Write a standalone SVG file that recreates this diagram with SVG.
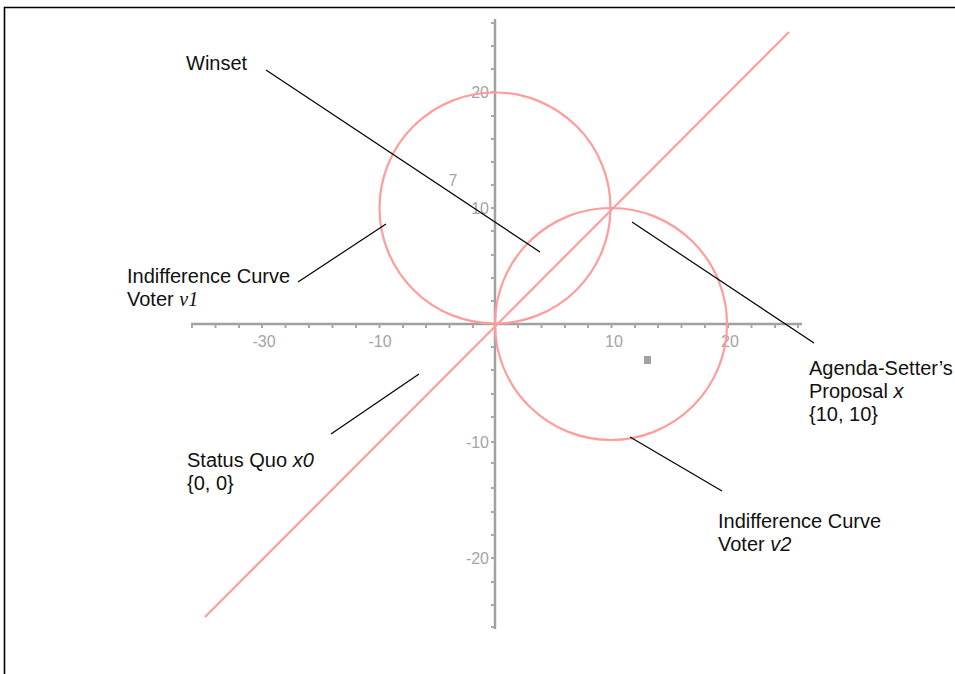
<svg xmlns="http://www.w3.org/2000/svg" width="955" height="674" viewBox="0 0 955 674">
<style>
.lbl{font-family:"Liberation Sans",Arial,sans-serif;font-size:20px;fill:#111}
.tick{font-family:"Liberation Sans",Arial,sans-serif;font-size:16px;fill:#a4a4a4}
.axis{stroke:#a0a0a0;stroke-width:2.5;fill:none}
.tk{stroke:#a8a8a8;stroke-width:2;fill:none}
.curve{stroke:#ff9c9c;stroke-width:2.2;fill:none}
.lead{stroke:#000;stroke-width:1.2;fill:none}
</style>
<rect width="955" height="674" fill="#fff"/>
<path d="M4.5,674 V7.5 H955" fill="none" stroke="#000" stroke-width="1.6"/>

<g id="axes">
<line class="axis" x1="191" y1="324" x2="802" y2="324"/>
<line class="axis" x1="495" y1="19" x2="495" y2="629"/>
<path class="tk" d="M192,324v4M215.5,324v4M239,324v4M262,324v4M285.5,324v4M309,324v4M332.5,324v4M356,324v4M379.5,324v4M403,324v4M426,324v4M449.5,324v4M473,324v4M518,324v4M541.5,324v4M565,324v4M588,324v4M611.5,324v4M635,324v4M658,324v4M681.5,324v4M705,324v4M728,324v4M751.5,324v4M775,324v4M798,324v4"/>
<path class="tk" d="M495,23h-4M495,46h-4M495,69h-4M495,92h-4M495,116h-4M495,139h-4M495,162h-4M495,185h-4M495,208h-4M495,231h-4M495,255h-4M495,278h-4M495,301h-4M495,347h-4M495,370h-4M495,394h-4M495,417h-4M495,442h-4M495,463h-4M495,488h-4M495,512h-4M495,535h-4M495,558h-4M495,582h-4M495,605h-4M495,627h-4"/>
<text class="tick" x="264" y="347" text-anchor="middle">-30</text>
<text class="tick" x="380" y="347" text-anchor="middle">-10</text>
<text class="tick" x="614" y="347" text-anchor="middle">10</text>
<text class="tick" x="730" y="347" text-anchor="middle">20</text>
<text class="tick" x="489" y="98" text-anchor="end">20</text>
<text class="tick" x="489" y="214" text-anchor="end">10</text>
<text class="tick" x="489" y="448" text-anchor="end">-10</text>
<text class="tick" x="489" y="564" text-anchor="end">-20</text>
<text class="tick" x="453" y="186" text-anchor="middle">7</text>
<rect x="644" y="356" width="7" height="8" fill="#a0a0a0"/>
</g>

<g id="curves">
<circle id="v1" class="curve" cx="495" cy="208" r="115.5"/>
<circle id="v2" class="curve" cx="611" cy="324" r="116"/>
<line id="diag" class="curve" x1="205" y1="617" x2="789" y2="32"/>
</g>

<g id="connectors">
<line class="lead" x1="266" y1="70" x2="540" y2="252"/>
<line class="lead" x1="298" y1="282" x2="386" y2="224"/>
<line class="lead" x1="632" y1="222" x2="814" y2="343"/>
<line class="lead" x1="419" y1="374" x2="331" y2="434"/>
<line class="lead" x1="630" y1="437" x2="722" y2="491"/>
</g>

<g id="winset"><text class="lbl" x="186" y="70">Winset</text></g>
<g id="label-v1">
<text class="lbl" x="127" y="283">Indifference Curve</text>
<text class="lbl" x="127" y="306">Voter <tspan font-family="'Liberation Serif','Times New Roman',serif" font-style="italic">v1</tspan></text>
</g>
<g id="label-x0">
<text class="lbl" x="187" y="467">Status Quo <tspan font-style="italic">x0</tspan></text>
<text class="lbl" x="187" y="490">{0, 0}</text>
</g>
<g id="label-x">
<text class="lbl" x="809" y="375">Agenda-Setter’s</text>
<text class="lbl" x="809" y="398">Proposal <tspan font-style="italic">x</tspan></text>
<text class="lbl" x="809" y="421">{10, 10}</text>
</g>
<g id="label-v2">
<text class="lbl" x="718" y="528">Indifference Curve</text>
<text class="lbl" x="718" y="551">Voter <tspan font-style="italic">v2</tspan></text>
</g>
</svg>
